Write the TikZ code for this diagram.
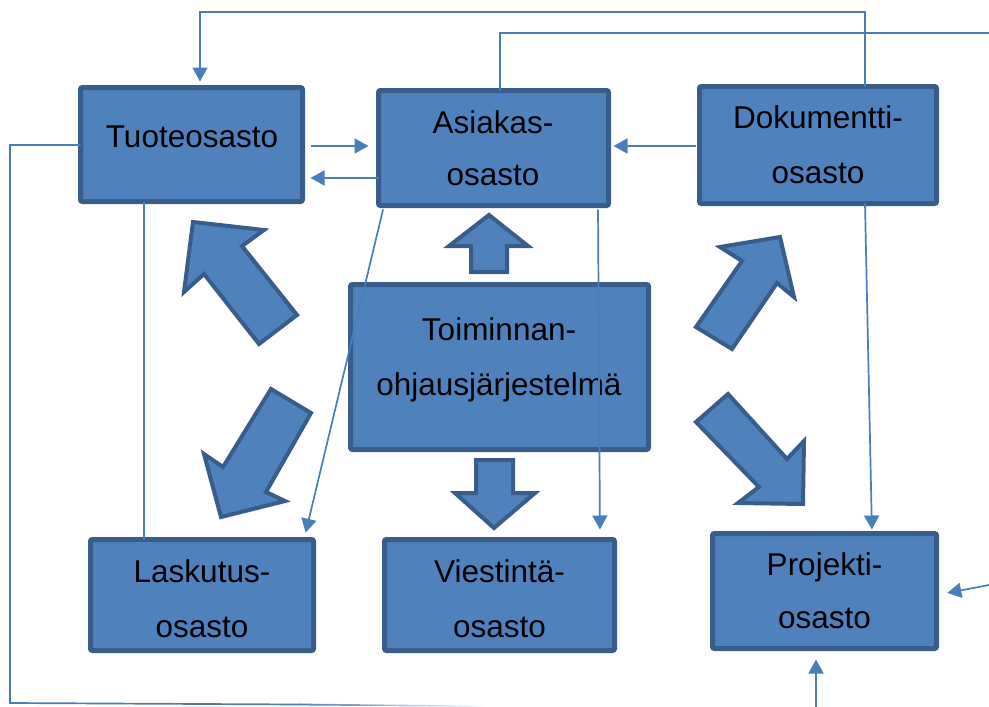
\documentclass[tikz,border=0pt]{standalone}
\usepackage{fontspec}
\setmainfont{Liberation Sans}
\usetikzlibrary{arrows.meta}
\definecolor{boxfill}{HTML}{4F81BD}
\definecolor{boxedge}{HTML}{385D8A}
\definecolor{linkblue}{HTML}{4A7EBB}
\tikzset{
  dept/.style={draw=boxedge, fill=boxfill, line width=5pt, rounded corners=2pt,
    inner sep=0pt, outer sep=0pt},
  txt/.style={anchor=base, inner sep=0pt, font=\fontsize{31.5}{38}\selectfont, text=black},
  bigarrow/.style={draw=boxedge, fill=boxfill, line width=4pt, line join=miter},
  link/.style={draw=linkblue, line width=1.7pt},
  linkarrow/.style={link, -{Triangle[length=14pt,width=15pt]}},
}
\begin{document}
\begin{tikzpicture}[x=1pt,y=-1pt]
\useasboundingbox (0,0) rectangle (989,707);

% department boxes
\node[dept, minimum width=222pt, minimum height=114pt] (tuote) at (191.5,144.5) {};
\node[dept, minimum width=230pt, minimum height=115pt] (asiak) at (493.5,148) {};
\node[dept, minimum width=237pt, minimum height=117pt] (doku)  at (818,145) {};
\node[dept, minimum width=298pt, minimum height=165pt] (toim)  at (499.5,367) {};
\node[dept, minimum width=223pt, minimum height=111pt] (lasku) at (202,595) {};
\node[dept, minimum width=230pt, minimum height=111pt] (viest) at (499.5,595) {};
\node[dept, minimum width=224pt, minimum height=115pt] (proj)  at (824.5,591) {};

% box captions
\node[txt] (tuote-a) at (192,147) {Tuoteosasto};
\node[txt] (asiak-a) at (493,133) {Asiakas-};
\node[txt] (asiak-b) at (493,185) {osasto};
\node[txt] (doku-a)  at (818,128) {Dokumentti-};
\node[txt] (doku-b)  at (818,183) {osasto};
\node[txt] (toim-a)  at (499,340) {Toiminnan-};
\node[txt] (toim-b)  at (499,395) {ohjausjärjestelmä};
\node[txt] (lasku-a) at (202,582) {Laskutus-};
\node[txt] (lasku-b) at (202,637) {osasto};
\node[txt] (viest-a) at (499.5,582) {Viestintä-};
\node[txt] (viest-b) at (499.5,637) {osasto};
\node[txt] (proj-a)  at (824.5,575) {Projekti-};
\node[txt] (proj-b)  at (824.5,628) {osasto};

% block arrows around the central system
\draw[bigarrow] (489,215) -- (528,246) -- (507,246) -- (507,272) -- (471,272)
  -- (471,246) -- (449,246) -- cycle;
\draw[bigarrow] (476,460) -- (513,460) -- (513,493) -- (535,493) -- (494,528)
  -- (455,493) -- (476,493) -- cycle;
\draw[bigarrow] (193,222) -- (264,230) -- (242,246) -- (297,315) -- (259,344)
  -- (204,274) -- (184,292) -- cycle;
\draw[bigarrow] (271,389) -- (311,413) -- (266,492) -- (285,501) -- (221,517)
  -- (204,454) -- (223,467) -- cycle;
\draw[bigarrow] (780,237) -- (794,297) -- (777,283) -- (732,349) -- (696,327)
  -- (742,261) -- (720,247) -- cycle;
\draw[bigarrow] (696,422) -- (728,394) -- (787,459) -- (804,441) -- (803,504)
  -- (738,503) -- (759,487) -- cycle;

% routing points of the connectors
\coordinate (topR) at (865,12);
\coordinate (topL) at (200,12);
\coordinate (asiakUp) at (500,33);
\coordinate (edgeUp) at (989,33);
\coordinate (y146) at (0,146);
\coordinate (y178) at (0,178);
\coordinate (leftTop) at (10,145);
\coordinate (leftBot) at (10,703);
\coordinate (botMid) at (300,704.5);
\coordinate (edgeProj) at (989,585);
\coordinate (botProj) at (816,707);

% connectors
\draw[linkarrow, shorten >=6pt] (doku.north -| topR) -- (topR) -- (topL) -- (topL |- tuote.north);
\draw[link] (asiak.north -| asiakUp) -- (asiakUp) -- (edgeUp);
\draw[linkarrow, shorten <=8pt, shorten >=10pt] (tuote.east |- y146) -- (asiak.west |- y146);
\draw[linkarrow, shorten >=8pt] (asiak.west |- y178) -- (tuote.east |- y178);
\draw[linkarrow, shorten <=4pt, shorten >=5pt] (doku.west |- y146) -- (asiak.east |- y146);
\draw[link] (tuote.west |- leftTop) -- (leftTop) -- (leftBot) -- (botMid);
\shade[left color=linkblue, right color=white] (299,703.6) -- (488,705.6) -- (488,707) -- (299,705.4) -- cycle;
\draw[link] (tuote.south -| 144,0) -- (lasku.north -| 144,0);
\draw[linkarrow, shorten <=4pt, shorten >=7pt] (asiak.south -| 384,0) -- (lasku.north -| 304,0);
\draw[linkarrow, shorten <=4pt, shorten >=10pt] (asiak.south -| 598,0) -- (viest.north -| 600,0);
\draw[linkarrow, shorten >=4pt] (doku.south -| topR) -- (proj.north -| 872,0);
\draw[linkarrow, shorten >=11pt] (edgeProj) -- (proj.east |- 0,595);
\draw[linkarrow, shorten >=11pt] (botProj) -- (proj.south -| botProj);
\end{tikzpicture}
\end{document}
